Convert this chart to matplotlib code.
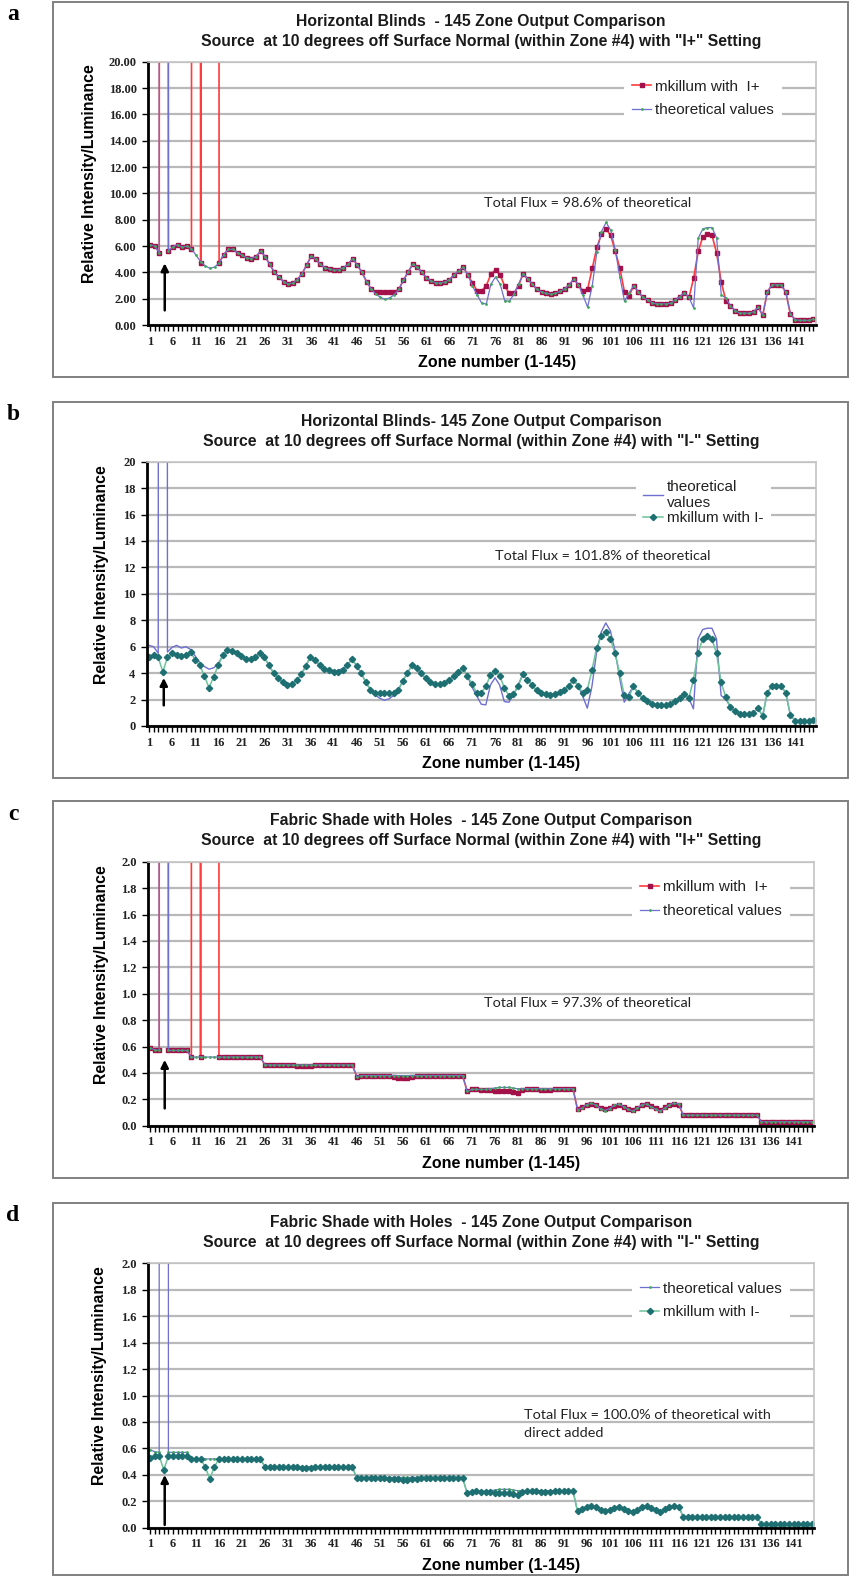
import matplotlib
matplotlib.use('Agg')
import matplotlib.pyplot as plt
from matplotlib.patches import Rectangle
import numpy as np

W, H = 851, 1576

# zone numbers and x tick labels (every 5th zone labelled)
zones = list(range(1, 146))
x_labels = [str(z) if (z - 1) % 5 == 0 else '' for z in zones]

# Horizontal blinds - theoretical values (zone 4 = direct source, off scale)
theo_blinds = [
    6.1, 6.0, 5.5, 1000, 5.6, 5.95, 6.1, 5.9, 6.0, 5.8,
    5.3, 4.8, 4.5, 4.3, 4.4, 4.7, 5.35, 5.75, 5.75, 5.5,
    5.3, 5.1, 5.05, 5.2, 5.6, 5.2, 4.6, 4.0, 3.65, 3.3,
    3.1, 3.2, 3.45, 3.9, 4.55, 5.25, 5.0, 4.6, 4.35, 4.25,
    4.15, 4.2, 4.35, 4.6, 5.05, 4.55, 4.0, 3.3, 2.75, 2.35,
    2.1, 1.95, 2.05, 2.3, 2.7, 3.4, 4.0, 4.6, 4.4, 4.0,
    3.6, 3.35, 3.2, 3.2, 3.25, 3.45, 3.8, 4.1, 4.4, 3.8,
    2.95, 2.3, 1.65, 1.6, 3.1, 3.65, 3.1, 1.85, 1.8, 2.35,
    3.1, 3.9, 3.5, 3.1, 2.7, 2.5, 2.4, 2.35, 2.4, 2.55,
    2.75, 3.05, 3.5, 3.05, 2.25, 1.35, 3.0, 5.55, 7.1, 7.8,
    7.2, 5.7, 3.65, 1.8, 2.45, 3.0, 2.5, 2.1, 1.9, 1.7,
    1.6, 1.6, 1.6, 1.65, 1.9, 2.15, 2.45, 2.1, 1.3, 6.6,
    7.3, 7.4, 7.4, 6.6, 2.3, 2.05, 1.45, 1.1, 0.9, 0.9,
    0.9, 1.0, 1.35, 0.75, 2.5, 3.05, 3.05, 3.05, 2.5, 0.85,
    0.4, 0.35, 0.35, 0.35, 0.45]

# Horizontal blinds - mkillum with I+
mk_plus_blinds = [
    6.1, 6.0, 5.5, 1000, 5.6, 5.95, 6.1, 5.9, 6.0, 5.8,
    1000, 4.7, 1000, 1000, 1000, 4.7, 5.35, 5.75, 5.75, 5.5,
    5.3, 5.1, 5.05, 5.2, 5.6, 5.2, 4.6, 4.0, 3.65, 3.3,
    3.1, 3.2, 3.45, 3.9, 4.55, 5.25, 5.0, 4.6, 4.35, 4.25,
    4.15, 4.2, 4.35, 4.6, 5.05, 4.55, 4.0, 3.3, 2.75, 2.5,
    2.5, 2.5, 2.5, 2.5, 2.7, 3.4, 4.0, 4.6, 4.4, 4.0,
    3.6, 3.35, 3.2, 3.2, 3.25, 3.45, 3.8, 4.1, 4.4, 3.8,
    3.2, 2.6, 2.6, 3.0, 3.85, 4.2, 3.8, 2.95, 2.4, 2.4,
    3.0, 3.9, 3.5, 3.1, 2.7, 2.5, 2.4, 2.35, 2.4, 2.55,
    2.75, 3.05, 3.5, 3.05, 2.6, 2.75, 4.3, 5.9, 6.9, 7.3,
    6.8, 5.6, 4.3, 2.5, 2.2, 3.0, 2.5, 2.1, 1.9, 1.7,
    1.6, 1.6, 1.6, 1.65, 1.9, 2.15, 2.45, 2.1, 3.55, 5.6,
    6.7, 6.9, 6.8, 5.45, 3.25, 1.85, 1.45, 1.1, 0.9, 0.9,
    0.9, 1.0, 1.35, 0.75, 2.5, 3.05, 3.05, 3.05, 2.5, 0.85,
    0.4, 0.35, 0.35, 0.35, 0.45]

# Horizontal blinds - mkillum with I-
mk_minus_blinds = [
    5.2, 5.4, 5.2, 4.1, 5.2, 5.5, 5.4, 5.3, 5.4, 5.6,
    5.0, 4.6, 3.8, 2.9, 3.7, 4.6, 5.35, 5.75, 5.7, 5.5,
    5.3, 5.1, 5.05, 5.2, 5.55, 5.2, 4.6, 4.0, 3.65, 3.3,
    3.1, 3.2, 3.45, 3.9, 4.55, 5.25, 5.0, 4.6, 4.35, 4.2,
    4.1, 4.1, 4.2, 4.6, 5.05, 4.55, 4.0, 3.3, 2.75, 2.5,
    2.5, 2.5, 2.5, 2.5, 2.7, 3.4, 4.0, 4.6, 4.4, 4.0,
    3.6, 3.35, 3.2, 3.2, 3.25, 3.45, 3.8, 4.1, 4.4, 3.8,
    3.2, 2.5, 2.5, 3.0, 3.85, 4.15, 3.8, 2.9, 2.3, 2.4,
    3.0, 3.9, 3.5, 3.1, 2.7, 2.5, 2.4, 2.35, 2.4, 2.55,
    2.75, 3.05, 3.45, 3.05, 2.5, 2.75, 4.2, 5.9, 6.8, 7.1,
    6.6, 5.5, 4.0, 2.35, 2.2, 3.0, 2.5, 2.1, 1.9, 1.7,
    1.6, 1.6, 1.6, 1.65, 1.9, 2.15, 2.45, 2.1, 3.5, 5.5,
    6.6, 6.8, 6.6, 5.5, 3.3, 2.2, 1.45, 1.1, 0.9, 0.9,
    0.9, 1.0, 1.35, 0.75, 2.5, 3.05, 3.05, 3.05, 2.5, 0.85,
    0.4, 0.35, 0.35, 0.35, 0.45]

# Fabric shade with holes - theoretical values
theo_fabric = [
    0.59, 0.575, 0.57, 1000, 0.57, 0.57, 0.57, 0.57, 0.57, 0.52,
    0.52, 0.52, 0.52, 0.52, 0.52, 0.52, 0.52, 0.52, 0.52, 0.52,
    0.52, 0.52, 0.52, 0.52, 0.52, 0.46, 0.46, 0.46, 0.46, 0.46,
    0.46, 0.46, 0.46, 0.46, 0.46, 0.46, 0.46, 0.46, 0.46, 0.46,
    0.46, 0.46, 0.46, 0.46, 0.46, 0.37, 0.38, 0.38, 0.38, 0.38,
    0.38, 0.38, 0.38, 0.38, 0.38, 0.38, 0.38, 0.38, 0.38, 0.38,
    0.38, 0.38, 0.38, 0.38, 0.38, 0.38, 0.38, 0.38, 0.38, 0.26,
    0.275, 0.275, 0.275, 0.275, 0.28, 0.285, 0.29, 0.29, 0.29, 0.285,
    0.28, 0.28, 0.28, 0.28, 0.28, 0.28, 0.28, 0.28, 0.28, 0.28,
    0.28, 0.28, 0.28, 0.12, 0.135, 0.16, 0.17, 0.155, 0.13, 0.115,
    0.13, 0.155, 0.165, 0.145, 0.125, 0.11, 0.135, 0.16, 0.165, 0.145,
    0.125, 0.11, 0.135, 0.16, 0.17, 0.165, 0.08, 0.08, 0.08, 0.08,
    0.08, 0.08, 0.08, 0.08, 0.08, 0.08, 0.08, 0.08, 0.08, 0.08,
    0.08, 0.08, 0.08, 0.03, 0.03, 0.03, 0.03, 0.03, 0.03, 0.03,
    0.03, 0.03, 0.03, 0.03, 0.03]

# Fabric shade with holes - mkillum with I+
mk_plus_fabric = [
    0.59, 0.575, 0.57, 1000, 0.57, 0.57, 0.57, 0.57, 0.57, 0.52,
    1000, 0.52, 1000, 1000, 1000, 0.52, 0.52, 0.52, 0.52, 0.52,
    0.52, 0.52, 0.52, 0.52, 0.52, 0.46, 0.46, 0.46, 0.46, 0.46,
    0.46, 0.46, 0.455, 0.455, 0.455, 0.455, 0.46, 0.46, 0.46, 0.46,
    0.46, 0.46, 0.46, 0.46, 0.46, 0.37, 0.375, 0.38, 0.38, 0.38,
    0.38, 0.375, 0.375, 0.37, 0.365, 0.36, 0.36, 0.37, 0.375, 0.38,
    0.38, 0.38, 0.38, 0.38, 0.38, 0.38, 0.38, 0.38, 0.38, 0.26,
    0.275, 0.275, 0.27, 0.27, 0.27, 0.265, 0.265, 0.26, 0.26, 0.255,
    0.245, 0.27, 0.275, 0.275, 0.275, 0.27, 0.27, 0.27, 0.275, 0.275,
    0.28, 0.28, 0.28, 0.125, 0.14, 0.16, 0.165, 0.155, 0.135, 0.125,
    0.135, 0.15, 0.16, 0.145, 0.13, 0.12, 0.135, 0.155, 0.165, 0.15,
    0.135, 0.12, 0.14, 0.16, 0.165, 0.16, 0.08, 0.08, 0.08, 0.08,
    0.08, 0.08, 0.08, 0.08, 0.08, 0.08, 0.08, 0.08, 0.08, 0.08,
    0.08, 0.08, 0.08, 0.03, 0.03, 0.03, 0.03, 0.03, 0.03, 0.03,
    0.03, 0.03, 0.03, 0.03, 0.03]

# Fabric shade with holes - mkillum with I-
mk_minus_fabric = [
    0.53, 0.54, 0.54, 0.44, 0.54, 0.54, 0.54, 0.54, 0.54, 0.52,
    0.52, 0.52, 0.46, 0.37, 0.46, 0.52, 0.52, 0.52, 0.52, 0.52,
    0.52, 0.52, 0.52, 0.52, 0.52, 0.46, 0.46, 0.46, 0.46, 0.46,
    0.46, 0.46, 0.46, 0.455, 0.455, 0.455, 0.46, 0.46, 0.46, 0.46,
    0.46, 0.46, 0.46, 0.46, 0.46, 0.375, 0.375, 0.375, 0.375, 0.375,
    0.375, 0.375, 0.37, 0.37, 0.365, 0.36, 0.36, 0.365, 0.37, 0.375,
    0.375, 0.375, 0.375, 0.375, 0.375, 0.375, 0.375, 0.375, 0.375, 0.26,
    0.27, 0.275, 0.27, 0.27, 0.27, 0.265, 0.265, 0.26, 0.26, 0.255,
    0.245, 0.27, 0.275, 0.275, 0.275, 0.27, 0.27, 0.27, 0.275, 0.275,
    0.28, 0.28, 0.28, 0.125, 0.14, 0.16, 0.165, 0.155, 0.135, 0.125,
    0.135, 0.15, 0.16, 0.145, 0.13, 0.12, 0.135, 0.155, 0.165, 0.15,
    0.135, 0.12, 0.14, 0.16, 0.165, 0.16, 0.08, 0.08, 0.08, 0.08,
    0.08, 0.08, 0.08, 0.08, 0.08, 0.08, 0.08, 0.08, 0.08, 0.08,
    0.08, 0.08, 0.08, 0.03, 0.03, 0.03, 0.03, 0.03, 0.03, 0.03,
    0.03, 0.03, 0.03, 0.03, 0.03]

RED = '#ff3b3b'
RED_MK = '#a3104a'
BLUE = '#6f6fd2'
GREEN_MK = '#3faa5a'
TEAL = '#6cc49a'
TEAL_MK = '#1d6f72'

SANS = 'Liberation Sans'
SERIF = 'Liberation Serif'


def px_axes(fig, left, top, right, bottom):
    return fig.add_axes([left / W, 1 - bottom / H, (right - left) / W, (bottom - top) / H])


def add_frame(fig, top, bottom, letter):
    fig.patches.append(Rectangle((53 / W, 1 - bottom / H), (848 - 53) / W, (bottom - top) / H,
                                 transform=fig.transFigure, fill=False,
                                 edgecolor='#808080', lw=1.4))
    fig.text(13 / W, 1 - (top + 13) / H, letter, family=SERIF, weight='bold',
             fontsize=17, ha='center', va='center')


def add_title(fig, y1, line1, line2):
    fig.text(481 / W, 1 - y1 / H, line1, family=SANS, weight='bold', fontsize=11.3,
             ha='center', va='center', color='#1a1a1a')
    fig.text(481 / W, 1 - (y1 + 20) / H, line2, family=SANS, weight='bold', fontsize=11.3,
             ha='center', va='center', color='#1a1a1a')


def style_axes(ax, ymax, ystep, yfmt, ylab_x, xlab_x):
    ax.set_xlim(0.5, 145.5)
    ax.set_ylim(0, ymax)
    yt = np.arange(0, ymax + ystep / 2, ystep)
    ax.set_yticks(yt)
    ax.set_yticklabels([yfmt % v for v in yt])
    ax.set_xticks(zones)
    ax.set_xticklabels(x_labels)
    ax.grid(axis='y', color='#b9b9b9', lw=1.6)
    ax.set_axisbelow(True)
    for s in ['top', 'right']:
        ax.spines[s].set_color('#c4c4c4')
        ax.spines[s].set_linewidth(1.2)
    for s in ['left', 'bottom']:
        ax.spines[s].set_color('black')
        ax.spines[s].set_linewidth(2)
    ax.tick_params(axis='x', direction='out', length=4, width=1, pad=3.6, labelsize=9)
    ax.tick_params(axis='y', direction='out', length=4, width=1, pad=4, labelsize=9)
    for lab in ax.get_xticklabels() + ax.get_yticklabels():
        lab.set_family(SERIF)
        lab.set_fontweight('bold')
        lab.set_color('#222222')
    ax.set_ylabel('Relative Intensity/Luminance', family=SANS, weight='bold', fontsize=11.4)
    ax.yaxis.set_label_coords(ylab_x, 0.574)
    ax.set_xlabel('Zone number (1-145)', family=SANS, weight='bold', fontsize=11.5)
    ax.xaxis.set_label_coords(xlab_x, -0.115)


def plot_theo(ax, values):
    ax.plot(zones, values, color=BLUE, lw=0.9, marker='o', markersize=1.0,
            markerfacecolor=GREEN_MK, markeredgecolor=GREEN_MK, label='theoretical values')


def plot_plus(ax, values):
    ax.plot(zones, values, color=RED, lw=1.2, marker='s', markersize=2.6,
            markerfacecolor=RED_MK, markeredgecolor=RED_MK, label='mkillum with  I+')


def plot_minus(ax, values):
    ax.plot(zones, values, color=TEAL, lw=1.1, marker='D', markersize=3.2,
            markerfacecolor=TEAL_MK, markeredgecolor=TEAL_MK, label='mkillum with I-')


def add_arrow(ax, tail, head):
    ax.annotate('', xy=(4.2, head), xytext=(4.2, tail),
                arrowprops=dict(arrowstyle='-|>', color='black', lw=1.8, mutation_scale=11))


def add_legend(ax, x, y, spacing):
    leg = ax.legend(loc='center left', bbox_to_anchor=(x, y), frameon=True,
                    fancybox=False, edgecolor='none', facecolor='white', framealpha=1,
                    prop={'family': SANS, 'size': 11}, handlelength=1.3,
                    handletextpad=0.25, labelspacing=spacing, borderpad=0.5,
                    borderaxespad=0)
    for t in leg.get_texts():
        t.set_color('#222222')
    return leg


def flux_text(ax, x, y, txt, ha='center'):
    ax.text(x, y, txt, transform=ax.transAxes, family='Lato', fontsize=10.4,
            ha=ha, va='center', color='#222222', linespacing=1.55)


fig = plt.figure(figsize=(W / 100, H / 100), dpi=100)
fig.patch.set_facecolor('white')

sub2 = 'Source  at 10 degrees off Surface Normal (within Zone #4) with '

# panel a
add_frame(fig, 2, 377, 'a')
add_title(fig, 21.7, 'Horizontal Blinds  - 145 Zone Output Comparison', sub2 + '"I+" Setting')
ax = px_axes(fig, 147.7, 61.7, 815.7, 325)
plot_plus(ax, mk_plus_blinds)
plot_theo(ax, theo_blinds)
style_axes(ax, 20, 2, '%.2f', -0.076, 0.523)
add_legend(ax, 0.713, 0.86, 0.63)
flux_text(ax, 0.658, 0.462, 'Total Flux = 98.6% of theoretical')
add_arrow(ax, 0.9, 4.9)

# panel b
add_frame(fig, 401.7, 778, 'b')
add_title(fig, 421.7, 'Horizontal Blinds- 145 Zone Output Comparison', sub2 + '"I-" Setting')
ax = px_axes(fig, 146.7, 461.7, 815.7, 726)
ax.plot(zones, theo_blinds, color=BLUE, lw=1.0, label='theoretical\nvalues')
plot_minus(ax, mk_minus_blinds)
style_axes(ax, 20, 2, '%d', -0.057, 0.53)
add_legend(ax, 0.731, 0.846, 0.05)
flux_text(ax, 0.682, 0.644, 'Total Flux = 101.8% of theoretical')
add_arrow(ax, 1.35, 3.85)

# panel c
add_frame(fig, 801, 1178, 'c')
add_title(fig, 820.7, 'Fabric Shade with Holes  - 145 Zone Output Comparison', sub2 + '"I+" Setting')
ax = px_axes(fig, 147.7, 861.7, 814.3, 1125.7)
plot_plus(ax, mk_plus_fabric)
plot_theo(ax, theo_fabric)
style_axes(ax, 2.0, 0.2, '%.1f', -0.0585, 0.53)
add_legend(ax, 0.7265, 0.858, 0.63)
flux_text(ax, 0.66, 0.464, 'Total Flux = 97.3% of theoretical')
add_arrow(ax, 0.11, 0.52)

# panel d
add_frame(fig, 1202.7, 1575, 'd')
add_title(fig, 1222.7, 'Fabric Shade with Holes  - 145 Zone Output Comparison', sub2 + '"I-" Setting')
ax = px_axes(fig, 147.7, 1263.3, 814.3, 1527.7)
plot_theo(ax, theo_fabric)
plot_minus(ax, mk_minus_fabric)
style_axes(ax, 2.0, 0.2, '%.1f', -0.061, 0.53)
add_legend(ax, 0.7265, 0.859, 0.63)
flux_text(ax, 0.565, 0.393, 'Total Flux = 100.0% of theoretical with\ndirect added', ha='left')
add_arrow(ax, 0.0, 0.42)

fig.savefig('out.png', dpi=100, facecolor='white')
